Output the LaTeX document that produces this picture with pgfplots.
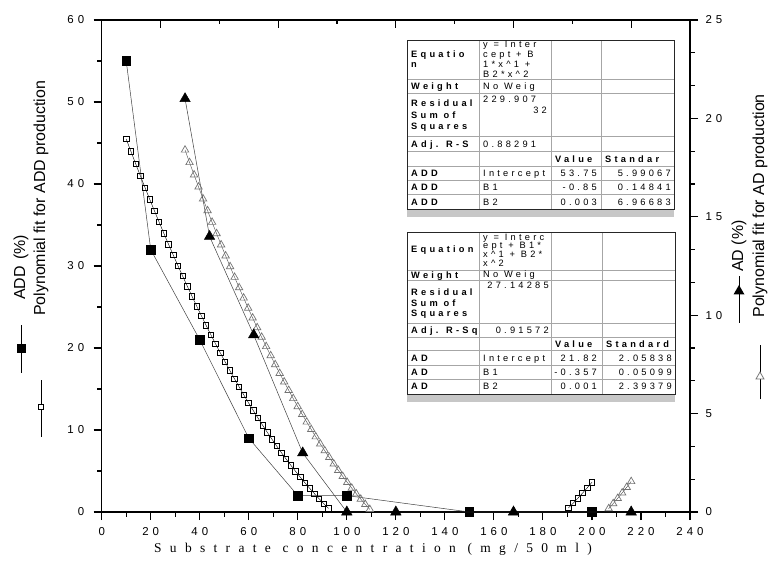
\documentclass[border=0pt]{standalone}
\usepackage{fontspec}
\setmainfont{Liberation Sans}
\newfontfamily\tickfont[LetterSpace=35]{Liberation Sans}
\newfontfamily\xlabfont[LetterSpace=62]{Liberation Serif}
\newfontfamily\tabfont[LetterSpace=35]{Liberation Sans}
\usepackage{pgfplots}
\pgfplotsset{compat=1.18}

% ADD (%) measured, left axis
\pgfplotstableread{
x y
10 55
20 32
40 21
60 9
80 2
100 2
150 0
200 0
}\addtab
% AD (%) measured, right axis
\pgfplotstableread{
x y
34 21
44 14
62 9
82 3
100 0
120 0
168 0
216 0
}\adtab

\pgfplotsset{
  base/.style={
    at={(101.7bp,53bp)}, anchor=south west,
    width=588.3bp, height=492bp, scale only axis,
    xmin=0, xmax=240, clip=false,
    tick align=outside,
    major tick length=8bp, minor tick length=4.5bp,
    every tick/.style={black, line width=1.1bp},
    axis line style={black, line width=1.3bp},
    tick label style={font=\tickfont\fontsize{11.5}{11.5}\selectfont},
  },
}

\newcommand\tl[3]{\node[anchor=base west, inner sep=0pt, font=\tabfont\fontsize{9.3}{9.5}\selectfont] at ({#1},{565-#2-3.3}) {#3};}
\newcommand\tr[3]{\node[anchor=base east, inner sep=0pt, font=\tabfont\fontsize{9.3}{9.5}\selectfont] at ({#1},{565-#2-3.3}) {#3};}

\begin{document}
\begin{tikzpicture}
\useasboundingbox (0,0) rectangle (772bp,565bp);

% left axis: ADD
\begin{axis}[base,
  ymin=0, ymax=60,
  axis x line*=bottom, axis y line*=left,
  xtick={0,20,...,240},
  xticklabels={0,20,40,60,80,100,120,140,160,180,200,220,240},
  minor xtick={10,30,...,230},
  xticklabel style={yshift=-4bp},
  ytick={0,10,...,60},
  yticklabels={0,10,20,30,40,50,60},
  minor ytick={5,15,...,55},
  yticklabel style={xshift=-6bp},
]
\addplot[black, line width=0.4bp, mark=square, mark size=2.7bp,
  mark options={black, line width=0.8bp, fill=white}] coordinates {
(10,45.489)(11.919,43.973)(13.838,42.479)(15.758,41.007)(17.677,39.558)
(19.596,38.131)(21.515,36.726)(23.434,35.344)(25.354,33.983)(27.273,32.646)
(29.192,31.330)(31.111,30.037)(33.030,28.766)(34.949,27.518)(36.869,26.291)
(38.788,25.087)(40.707,23.906)(42.626,22.746)(44.545,21.609)(46.465,20.495)
(48.384,19.403)(50.303,18.332)(52.222,17.285)(54.141,16.259)(56.061,15.256)
(57.980,14.275)(59.899,13.317)(61.818,12.381)(63.737,11.467)(65.657,10.576)
(67.576,9.706)(69.495,8.860)(71.414,8.035)(73.333,7.233)(75.253,6.453)
(77.172,5.695)(79.091,4.960)(81.010,4.247)(82.929,3.556)(84.848,2.888)
(86.768,2.242)(88.687,1.618)(90.606,1.017)(92.525,0.437)
};
\addplot[black, line width=0.4bp, mark=square, mark size=2.7bp,
  mark options={black, line width=0.8bp, fill=white}] coordinates {
(190.404,0.493)(192.323,1.074)(194.242,1.678)(196.162,2.304)(198.081,2.952)(200,3.623)
};
\addplot[black!75, line width=0.5bp, mark=square*, mark size=4.3bp,
  mark options={black, fill=black}] table[x=x, y=y] {\addtab};
\end{axis}

% right axis: AD
\begin{axis}[base,
  ymin=0, ymax=25,
  axis x line=none, axis y line*=right,
  ytick={0,5,...,25},
  yticklabels={0,5,10,15,20,25},
  minor y tick num=2,
  yticklabel style={anchor=west, xshift=4bp},
]
\addplot[black!70, line width=0.4bp, mark=triangle, mark size=4.3bp,
  mark options={black!55, line width=0.7bp, fill=white}] coordinates {
(34,18.395)(35.838,17.759)(37.677,17.134)(39.515,16.517)(41.354,15.910)
(43.192,15.313)(45.030,14.725)(46.869,14.147)(48.707,13.578)(50.545,13.019)
(52.384,12.469)(54.222,11.929)(56.061,11.398)(57.899,10.876)(59.737,10.364)
(61.576,9.862)(63.414,9.369)(65.253,8.886)(67.091,8.412)(68.929,7.947)
(70.768,7.493)(72.606,7.047)(74.444,6.611)(76.283,6.185)(78.121,5.768)
(79.960,5.360)(81.798,4.962)(83.636,4.574)(85.475,4.195)(87.313,3.825)
(89.152,3.465)(90.990,3.115)(92.828,2.774)(94.667,2.442)(96.505,2.120)
(98.343,1.808)(100.182,1.505)(102.020,1.211)(103.859,0.927)(105.697,0.653)
(107.535,0.388)(109.374,0.132)
};
\addplot[black!70, line width=0.4bp, mark=triangle, mark size=4.3bp,
  mark options={black!55, line width=0.7bp, fill=white}] coordinates {
(206.808,0.171)(208.646,0.428)(210.485,0.694)(212.323,0.970)(214.162,1.256)(216,1.551)
};
\addplot[black!75, line width=0.5bp, mark=triangle*, mark size=6bp,
  mark options={black, fill=black}] table[x=x, y=y] {\adtab};
\end{axis}

% top axis line with its own ticks
\begin{axis}[base,
  ymin=0, ymax=1,
  axis x line*=top, axis y line=none,
  tick align=inside,
  xtick={24,72,120,168,216}, xticklabels={},
  minor xtick={48,96,144,192},
]
\end{axis}

\begin{scope}[x=1bp, y=1bp]
% axis title
\node[font=\xlabfont\fontsize{13.5}{13.5}\selectfont, inner sep=0pt] at (373,16) {Substrate concentration (mg/50ml)};

% left y labels
\draw[black, line width=0.6] (21,192) -- (21,240);
\fill[black] (16.5,211.5) rectangle (25.5,220.5);
\node[rotate=90, anchor=west, inner sep=0pt, font=\fontsize{16}{16}\selectfont] at (21,265) {ADD\hspace{0.4em}(\%)};
\draw[black, line width=0.6] (41,128) -- (41,185);
\draw[black, line width=0.8, fill=white] (38.25,155.25) rectangle (43.75,160.75);
\node[rotate=90, anchor=west, inner sep=0pt, font=\fontsize{16}{16}\selectfont] at (41,249) {Polynomial fit for ADD production};

% right y labels
\draw[black, line width=0.6] (739,242) -- (739,289);
\fill[black] (733.5,270.5) -- (744.5,270.5) -- (739,280) -- cycle;
\node[rotate=90, anchor=west, inner sep=0pt, font=\fontsize{16}{16}\selectfont] at (739,293) {AD (\%)};
\draw[black, line width=0.6] (760,165.5) -- (760,220);
\draw[black!55, line width=0.8, fill=white] (756,186) -- (764,186) -- (760,193) -- cycle;
\node[rotate=90, anchor=west, inner sep=0pt, font=\fontsize{16}{16}\selectfont] at (760,247.3) {Polynomial fit for AD production};

% ---- table 1 (ADD fit) ----
\fill[black!22] (407.3,348) rectangle (674,355.7);
\fill[white] (407.3,355.7) rectangle (674,525);
\begin{scope}[black!35, line width=0.6]
\foreach \y in {485.7,471.7,428.3,413.3,398.3,385,371} \draw (407.3,\y) -- (674,\y);
\foreach \x in {479.3,551,601.7} \draw (\x,355.7) -- (\x,525);
\end{scope}
\draw[black!85, line width=1] (407.3,355.7) rectangle (674,525);
\tl{411}{54}{\bfseries Equatio}
\tl{411}{64}{\bfseries n}
\tl{411}{86}{\bfseries Weight}
\tl{411}{103.3}{\bfseries Residual}
\tl{411}{115}{\bfseries Sum of}
\tl{411}{126}{\bfseries Squares}
\tl{411}{144.5}{\bfseries Adj. R-S}
\tl{411}{173.3}{\bfseries ADD}
\tl{411}{187}{\bfseries ADD}
\tl{411}{201.7}{\bfseries ADD}
\tl{483}{44.5}{y = Inter}
\tl{483}{54.3}{cept + B}
\tl{483}{64.1}{1*x\textasciicircum 1 +}
\tl{483}{73.9}{B2*x\textasciicircum 2}
\tl{483}{86}{No Weig}
\tl{483}{99.3}{229.907}
\tr{547}{110}{32}
\tl{483}{144}{0.88291}
\tl{483}{173.3}{Intercept}
\tl{483}{187}{B1}
\tl{483}{201.7}{B2}
\tl{555}{159}{\bfseries Value}
\tr{597}{173.3}{53.75}
\tr{597}{187}{-0.85}
\tr{597}{201.7}{0.003}
\begin{scope}
\clip (601.7,413.3) rectangle (674,398.3);
\tl{605}{159}{\bfseries Standar}
\end{scope}
\tr{671}{173.3}{5.99067}
\tr{671}{187}{0.14841}
\tr{671}{201.7}{6.96683}

% ---- table 2 (AD fit) ----
\fill[black!22] (407.3,163.3) rectangle (675,171);
\fill[white] (407.3,171) rectangle (675,332.3);
\begin{scope}[black!35, line width=0.6]
\foreach \y in {295,285,241.7,227.7,214.3,199.3,186} \draw (407.3,\y) -- (675,\y);
\foreach \x in {479.3,551,602.3} \draw (\x,171) -- (\x,332.3);
\end{scope}
\draw[black!85, line width=1] (407.3,171) rectangle (675,332.3);
\tl{411}{249.3}{\bfseries Equation}
\tl{411}{275}{\bfseries Weight}
\tl{411}{291.7}{\bfseries Residual}
\tl{411}{302.7}{\bfseries Sum of}
\tl{411}{312.7}{\bfseries Squares}
\tl{411}{330.5}{\bfseries Adj. R-Sq}
\tl{411}{358.3}{\bfseries AD}
\tl{411}{372.5}{\bfseries AD}
\tl{411}{386.5}{\bfseries AD}
\begin{scope}
\clip (479.3,295) rectangle (551,332.3);
\tl{483}{237.5}{y = Interc}
\tl{483}{245.5}{ept + B1*}
\tl{483}{254}{x\textasciicircum 1 + B2*}
\tl{483}{263}{x\textasciicircum 2}
\end{scope}
\tl{483}{274}{No Weig}
\tr{549}{285}{27.14285}
\tr{549}{330}{0.91572}
\tl{483}{358.3}{Intercept}
\tl{483}{372.5}{B1}
\tl{483}{386.5}{B2}
\tl{555}{344.5}{\bfseries Value}
\tr{597}{358.3}{21.82}
\tr{597}{372.5}{-0.357}
\tr{597}{386.5}{0.001}
\tl{606}{344.5}{\bfseries Standard}
\tr{672}{358.3}{2.05838}
\tr{672}{372.5}{0.05099}
\tr{672}{386.5}{2.39379}
\end{scope}
\end{tikzpicture}
\end{document}
